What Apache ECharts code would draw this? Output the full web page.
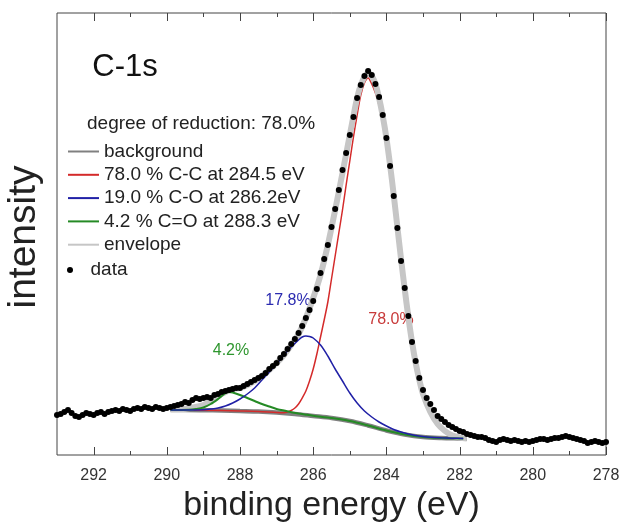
<!DOCTYPE html>
<html>
<head>
<meta charset="utf-8">
<script src="https://cdn.jsdelivr.net/npm/echarts@6/dist/echarts.min.js"></script>
<style>
html, body { margin: 0; padding: 0; background: #fff; }
#chart { width: 620px; height: 522px; }
</style>
</head>
<body>
<div id="chart"></div>
<script>
// measured spectrum, one point every 0.1 eV from 293.0 eV down to 278.0 eV
const dataStart = 293.0;
const dataStep = 0.1;
const dataCounts = [
    40, 41, 43, 45, 42, 39, 38, 40, 42, 41,
    40, 42, 43, 41, 43, 44, 45, 44, 46, 45,
    44, 46, 47, 46, 48, 47, 46, 48, 47, 46,
    47, 48, 49, 50, 51, 53, 52, 55, 57, 56,
    57, 58, 57, 60, 61, 63, 64, 65, 66, 67,
    67, 69, 71, 73, 75, 77, 79, 82, 86, 89,
    92, 97, 101, 106, 111, 116, 122, 129, 137, 145,
    154, 166, 182, 196, 210, 228, 246, 265, 285, 302,
    320, 338, 357, 370, 379, 384, 380, 371, 358, 340,
    317, 289, 259, 227, 194, 167, 139, 113, 94, 77,
    65, 57, 51, 45, 39, 36, 33, 30, 28, 26,
    24, 23, 21, 20, 19, 18, 18, 17, 15, 14,
    13, 15, 16, 15, 14, 15, 14, 13, 14, 13,
    14, 15, 16, 16, 15, 16, 17, 17, 18, 19,
    18, 17, 16, 15, 14, 12, 13, 14, 13, 12,
    13
];

// fitted curves [binding energy, intensity]
const backgroundCurve = [
    [289.9, 45], [289.5, 45], [289.0, 44.8], [288.5, 44.5], [288.0, 44], [287.5, 43.5],
    [287.0, 42.5], [286.5, 41], [286.0, 39], [285.5, 37], [285.0, 34], [284.5, 29.5],
    [284.0, 24.5], [283.5, 20.5], [283.0, 18], [282.5, 17], [282.0, 16.5], [281.8, 16.3]
];
const ccCurve = [
    [289.9, 45], [289.0, 44.8], [288.0, 44], [287.5, 43.5], [287.0, 42.5], [286.8, 42.3],
    [286.7, 43], [286.6, 44.5], [286.5, 47], [286.4, 51], [286.3, 57], [286.2, 64],
    [286.1, 74], [286.0, 86], [285.9, 101], [285.8, 118], [285.7, 135], [285.6, 153],
    [285.5, 176], [285.4, 199], [285.3, 222], [285.2, 245], [285.1, 270], [285.0, 294],
    [284.9, 318], [284.8, 340], [284.7, 360], [284.6, 372], [284.5, 377], [284.4, 371],
    [284.3, 362], [284.2, 350], [284.1, 333], [284.0, 312], [283.9, 286], [283.8, 257],
    [283.7, 226], [283.6, 194], [283.5, 164], [283.4, 137], [283.3, 112], [283.2, 91],
    [283.1, 74], [283.0, 61], [282.9, 50], [282.8, 42], [282.7, 35], [282.6, 30],
    [282.5, 26], [282.4, 23], [282.3, 21], [282.2, 19], [282.1, 17.8], [282.0, 17], [281.9, 16.5]
];
const coCurve = [
    [289.9, 45], [289.4, 45], [289.0, 45.3], [288.8, 46], [288.6, 47], [288.4, 49],
    [288.2, 52], [288.0, 56], [287.8, 61], [287.6, 67], [287.4, 75], [287.2, 83],
    [287.0, 91], [286.8, 100], [286.6, 108], [286.4, 115], [286.3, 118], [286.2, 119],
    [286.1, 118.5], [286.0, 117], [285.8, 110], [285.6, 99], [285.4, 86], [285.2, 74],
    [285.0, 62], [284.8, 52], [284.6, 44], [284.4, 38], [284.2, 33], [284.0, 29],
    [283.8, 25.5], [283.6, 23], [283.4, 21], [283.2, 19.5], [283.0, 18.5], [282.8, 17.8],
    [282.5, 17.2], [282.2, 16.8], [281.9, 16.5]
];
const cdoCurve = [
    [289.9, 45], [289.4, 45.2], [289.2, 46], [289.0, 47.5], [288.8, 51], [288.6, 56],
    [288.5, 59], [288.4, 62], [288.3, 63], [288.2, 62.5], [288.0, 60], [287.8, 57],
    [287.6, 54], [287.4, 51], [287.2, 48.5], [287.0, 46], [286.8, 44.5], [286.6, 42.8],
    [286.4, 41.5], [286.2, 40.3], [286.0, 39.2], [285.5, 37], [285.0, 34], [284.5, 29.5],
    [284.0, 24.5], [283.5, 20.5], [283.0, 18], [282.5, 17], [282.0, 16.5], [281.9, 16.4]
];
const envelopeCurve = [
    [289.9, 46], [289.6, 46], [289.3, 47.5], [289.0, 50], [288.8, 54], [288.6, 59],
    [288.4, 63], [288.2, 66], [288.0, 67], [287.8, 70], [287.6, 74], [287.4, 79],
    [287.2, 85], [287.0, 92], [286.8, 100], [286.6, 110], [286.4, 121], [286.2, 137],
    [286.0, 157], [285.8, 180], [285.6, 210], [285.4, 245], [285.2, 282], [285.0, 320],
    [284.9, 339], [284.8, 357], [284.7, 370], [284.6, 378], [284.5, 382], [284.4, 379],
    [284.3, 371], [284.2, 357], [284.1, 339], [284.0, 317], [283.9, 290], [283.8, 260],
    [283.7, 228], [283.6, 196], [283.5, 166], [283.4, 138], [283.3, 113], [283.2, 92],
    [283.1, 75], [283.0, 61], [282.8, 43], [282.6, 31], [282.4, 24], [282.2, 19.5],
    [282.0, 17.5], [281.8, 16.5]
];

// tick positions on the energy axis (labelled every 2 eV, short ticks in between)
const majorTicks = [278, 280, 282, 284, 286, 288, 290, 292];
const minorTicks = [279, 281, 283, 285, 287, 289, 291];

const seriesNames = [
    'background',
    '78.0 % C-C at 284.5 eV',
    '19.0 % C-O at 286.2eV',
    '4.2 % C=O at 288.3 eV',
    'envelope'
];
const peakLabels = ['78.0%', '17.8%', '4.2%'];

const FONT = '"Liberation Sans", Arial, sans-serif';
const Y_MAX = 442;
const chart = echarts.init(document.getElementById('chart'));

const dataPoints = dataCounts.map((v, i) => [+(dataStart - i * dataStep).toFixed(1), v]);

function curve(name, pts, color, width, z) {
    return {
        name: name, type: 'line', data: pts, symbol: 'none', smooth: 0.3,
        lineStyle: { color: color, width: width }, itemStyle: { color: color },
        z: z, silent: true
    };
}

const frameColor = '#444';
const legendText = { fontSize: 19, lineHeight: 19, color: '#222', fontFamily: FONT };

function label(id, x, y, text, size, color, align) {
    return {
        id: id, type: 'text', x: x, y: y, silent: true,
        style: { text: text, fontSize: size, fontFamily: FONT, fill: color, align: align || 'center', verticalAlign: 'middle' }
    };
}
const textEls = [
    label('title', 125, 67, 'C-1s', 31, '#111'),
    label('reduction', 87, 124, 'degree of reduction: 78.0%', 19, '#222', 'left'),
    label('pk0', 391, 320, peakLabels[0], 16, '#c83a3a'),
    label('pk1', 288, 301, peakLabels[1], 16, '#2b2bb0'),
    label('pk2', 231, 351, peakLabels[2], 16, '#2e962e')
];

const option = {
    animation: false,
    grid: {
        left: 57, right: 14, top: 13, bottom: 67, outerBoundsMode: 'none',
        show: true, borderColor: frameColor, borderWidth: 1
    },
    xAxis: {
        type: 'value', min: 278, max: 293, inverse: true, interval: 2,
        splitLine: { show: false }, axisLine: { show: false }, axisTick: { show: false },
        axisLabel: { showMaxLabel: false, fontSize: 16, color: '#333', margin: 13, fontFamily: FONT },
        name: 'binding energy (eV)', nameLocation: 'middle', nameGap: 34,
        nameTextStyle: { fontSize: 34, color: '#222', fontFamily: FONT }
    },
    yAxis: {
        type: 'value', min: 0, max: Y_MAX,
        axisLine: { show: false }, axisTick: { show: false }, axisLabel: { show: false },
        splitLine: { show: false },
        name: 'intensity', nameLocation: 'middle', nameGap: 13, nameRotate: 90,
        nameTextStyle: { fontSize: 39, color: '#222', fontFamily: FONT, padding: [0, 6, 0, 0] }
    },
    legend: [
        {
            orient: 'vertical', left: 67, top: 142, padding: 0,
            itemWidth: 31, itemHeight: 14, itemGap: 4.3, selectedMode: false,
            itemStyle: { opacity: 0 },
            data: seriesNames,
            textStyle: legendText
        },
        {
            orient: 'vertical', left: 67, top: 260.5, padding: 0,
            itemWidth: 31, itemHeight: 6, selectedMode: false,
            data: ['data'],
            textStyle: legendText
        }
    ],
    graphic: textEls,
    series: [
        curve(seriesNames[0], backgroundCurve, '#808080', 4.5, 2),
        curve(seriesNames[1], ccCurve, '#d42a2a', 1.5, 3),
        curve(seriesNames[4], envelopeCurve, '#c6c6c6', 6, 4),
        curve(seriesNames[3], cdoCurve, '#258a25', 2, 5),
        curve(seriesNames[2], coCurve, '#2020a6', 1.5, 6),
        {
            name: 'data', type: 'scatter', data: dataPoints, symbolSize: 6,
            itemStyle: { color: '#000', opacity: 1 }, z: 10, silent: true
        }
    ]
};

chart.setOption(option);

// inward ticks on bottom and top frame, placed through the axis scale
const yBottom = chart.convertToPixel({ yAxisIndex: 0 }, 0);
const yTop = chart.convertToPixel({ yAxisIndex: 0 }, Y_MAX);
const tickEls = [];
function addTicks(values, len, tag) {
    values.forEach((e, i) => {
        const x = Math.round(chart.convertToPixel({ xAxisIndex: 0 }, e)) + 0.5;
        tickEls.push({ id: tag + 'b' + i, type: 'line', silent: true, z: 20,
            shape: { x1: x, y1: yBottom, x2: x, y2: yBottom - len },
            style: { stroke: frameColor, lineWidth: 1 } });
        tickEls.push({ id: tag + 't' + i, type: 'line', silent: true, z: 20,
            shape: { x1: x, y1: yTop, x2: x, y2: yTop + len },
            style: { stroke: frameColor, lineWidth: 1 } });
    });
}
addTicks(majorTicks, 8, 'M');
addTicks(minorTicks, 4, 'm');
chart.setOption({ graphic: textEls.concat(tickEls) });
</script>
</body>
</html>
